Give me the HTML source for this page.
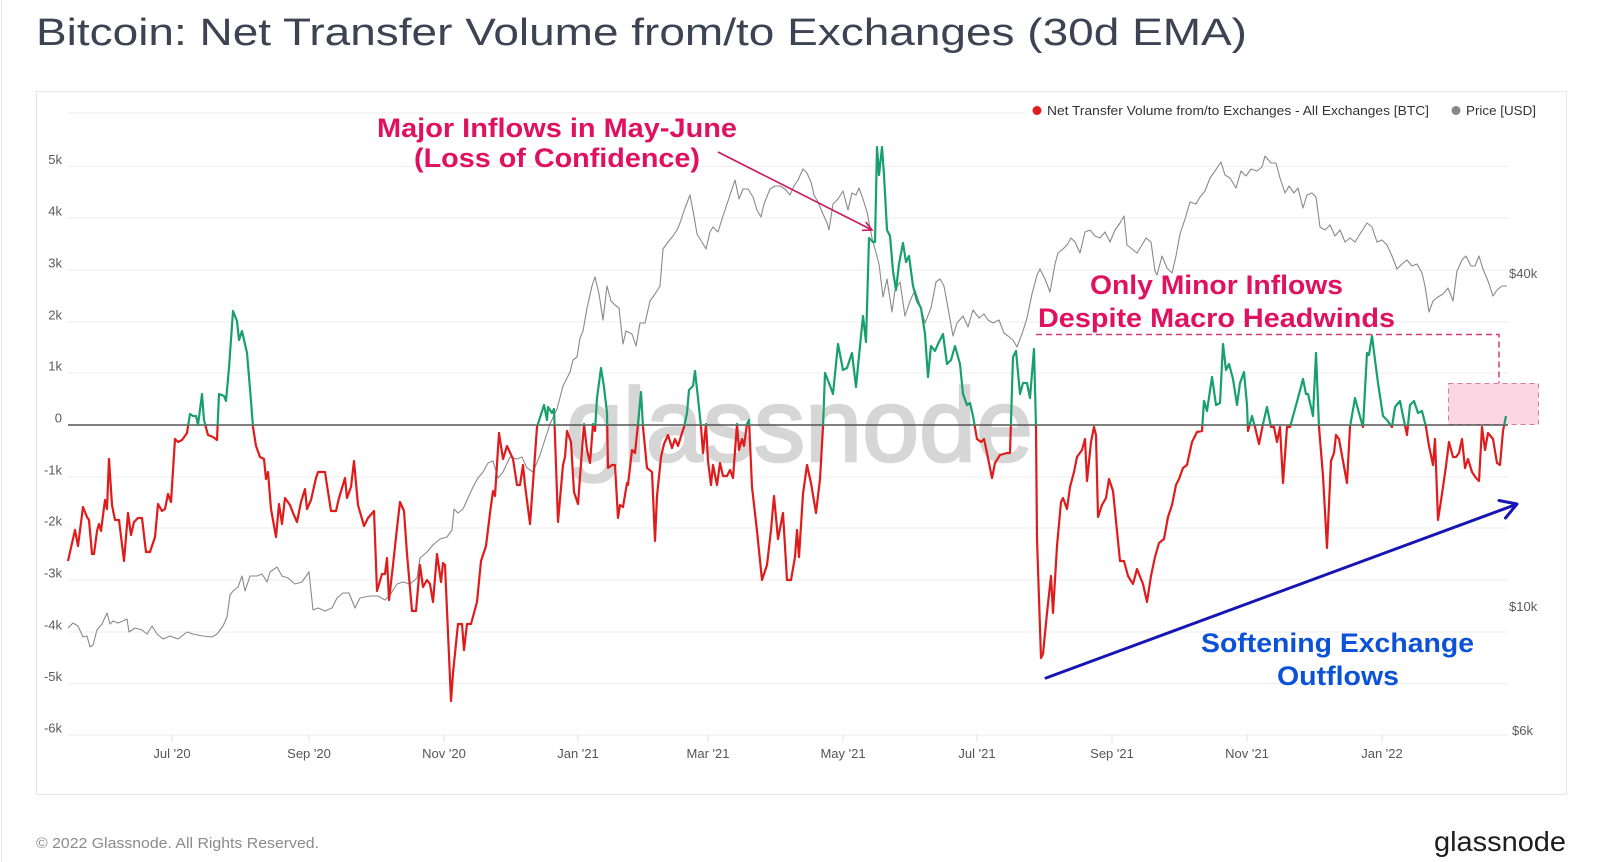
<!DOCTYPE html>
<html>
<head>
<meta charset="utf-8">
<style>
html,body{margin:0;padding:0;background:#fff;}
body{width:1600px;height:862px;overflow:hidden;}
svg{display:block;font-family:"Liberation Sans",Arial,sans-serif;}
</style>
</head>
<body>
<svg width="1600" height="862" viewBox="0 0 1600 862" xmlns="http://www.w3.org/2000/svg">
<defs>
<clipPath id="above"><rect x="0" y="0" width="1600" height="425.5"/></clipPath>
<clipPath id="below"><rect x="0" y="425.5" width="1600" height="440"/></clipPath>
</defs>
<rect x="0" y="0" width="1600" height="862" fill="#fff"/>
<line x1="1.5" y1="0" x2="1.5" y2="862" stroke="#e6e6e6" stroke-width="1"/>

<!-- Title -->
<text x="36" y="45" font-size="38" fill="#3c4352" textLength="1211" lengthAdjust="spacingAndGlyphs">Bitcoin: Net Transfer Volume from/to Exchanges (30d EMA)</text>

<!-- Chart frame -->
<rect x="36.5" y="91.5" width="1530" height="703" fill="#fff" stroke="#e6e6e6" stroke-width="1"/>

<!-- Gridlines -->
<g stroke="#eeeeee" stroke-width="1">
<line x1="68" y1="113" x2="1508" y2="113"/>
<line x1="68" y1="166.5" x2="1508" y2="166.5"/>
<line x1="68" y1="218" x2="1508" y2="218"/>
<line x1="68" y1="270" x2="1508" y2="270"/>
<line x1="68" y1="322" x2="1508" y2="322"/>
<line x1="68" y1="373" x2="1508" y2="373"/>
<line x1="68" y1="477" x2="1508" y2="477"/>
<line x1="68" y1="528" x2="1508" y2="528"/>
<line x1="68" y1="580" x2="1508" y2="580"/>
<line x1="68" y1="632" x2="1508" y2="632"/>
<line x1="68" y1="683.5" x2="1508" y2="683.5"/>
<line x1="68" y1="735" x2="1508" y2="735"/>
</g>

<!-- Legend -->
<rect x="1026" y="100" width="516" height="22" fill="#fff"/>
<circle cx="1037" cy="110.5" r="4.5" fill="#e01b1b"/>
<text x="1047" y="115" font-size="13" fill="#333" textLength="382" lengthAdjust="spacingAndGlyphs">Net Transfer Volume from/to Exchanges - All Exchanges [BTC]</text>
<circle cx="1456" cy="110.5" r="4.5" fill="#888"/>
<text x="1466" y="115" font-size="13" fill="#333" textLength="70" lengthAdjust="spacingAndGlyphs">Price [USD]</text>

<!-- x ticks -->
<g stroke="#e2e2e2" stroke-width="1">
<line x1="172" y1="735" x2="172" y2="742"/>
<line x1="309" y1="735" x2="309" y2="742"/>
<line x1="444" y1="735" x2="444" y2="742"/>
<line x1="578" y1="735" x2="578" y2="742"/>
<line x1="708" y1="735" x2="708" y2="742"/>
<line x1="843" y1="735" x2="843" y2="742"/>
<line x1="977" y1="735" x2="977" y2="742"/>
<line x1="1112" y1="735" x2="1112" y2="742"/>
<line x1="1247" y1="735" x2="1247" y2="742"/>
<line x1="1382" y1="735" x2="1382" y2="742"/>
</g>

<!-- Y labels left -->
<g font-size="13" fill="#5a5a5a" text-anchor="end">
<text x="62" y="164">5k</text>
<text x="62" y="215.5">4k</text>
<text x="62" y="267.5">3k</text>
<text x="62" y="319.5">2k</text>
<text x="62" y="370.5">1k</text>
<text x="62" y="422.5">0</text>
<text x="62" y="474.5">-1k</text>
<text x="62" y="525.5">-2k</text>
<text x="62" y="577.5">-3k</text>
<text x="62" y="629.5">-4k</text>
<text x="62" y="681">-5k</text>
<text x="62" y="732.5">-6k</text>
</g>
<!-- Y labels right -->
<g font-size="13" fill="#5a5a5a">
<text x="1509" y="278">$40k</text>
<text x="1509" y="611">$10k</text>
<text x="1512" y="735">$6k</text>
</g>
<!-- X labels -->
<g font-size="13" fill="#555" text-anchor="middle">
<text x="172" y="758">Jul '20</text>
<text x="309" y="758">Sep '20</text>
<text x="444" y="758">Nov '20</text>
<text x="578" y="758">Jan '21</text>
<text x="708" y="758">Mar '21</text>
<text x="843" y="758">May '21</text>
<text x="977" y="758">Jul '21</text>
<text x="1112" y="758">Sep '21</text>
<text x="1247" y="758">Nov '21</text>
<text x="1382" y="758">Jan '22</text>
</g>

<!-- Watermark -->
<text x="566" y="461" font-size="104" fill="#d6d6d6" stroke="#d6d6d6" stroke-width="2.5" textLength="467" lengthAdjust="spacingAndGlyphs">glassnode</text>

<!-- Price line -->
<polyline fill="none" stroke="#8a8a8a" stroke-width="1.1" stroke-linejoin="round" points="68,628 73,623 78,626 83,637 87,636 90,647 93,645 97,630 102,624 107,613 110,624 113,621 118,623 123,621 127,619 129,632 135,628 142,630 147,634 152,626 157,634 163,639 170,636 178,639 187,632 193,634 203,636 212,637 217,634 223,626 227,617 230,595 233,591 238,587 242,576 245,591 250,576 257,576 262,574 267,582 270,572 277,567 282,576 288,578 295,584 302,582 309,572 313,610 318,608 325,611 332,608 337,598 343,593 349,593 355,608 360,598 370,596 378,596 385,600 390,595 397,584 403,582 410,584 417,578 420,558 427,552 433,545 440,539 447,537 452,530 454,509 458,513 463,509 468,498 473,487 478,478 483,472 488,463 493,461 498,478 503,472 510,457 517,459 522,457 527,468 533,472 540,455 550,424 557,409 563,386 570,372 573,360 577,357 580,338 583,331 587,308 592,286 595,277 599,294 603,320 607,286 611,301 615,305 619,308 623,344 626,331 632,334 636,346 640,323 645,323 650,301 655,294 660,286 663,249 668,242 673,236 677,230 680,223 685,208 690,195 694,216 697,234 702,242 706,249 710,232 713,227 718,232 723,216 727,204 732,189 735,180 739,199 743,189 748,189 753,197 757,210 761,217 764,204 770,189 775,186 780,186 785,189 790,195 794,186 798,180 803,169 807,173 811,182 814,195 818,202 823,214 827,223 829,230 833,204 838,199 843,191 848,210 852,193 856,195 859,188 863,199 867,212 872,238 875,249 879,264 883,297 887,279 892,312 895,290 900,282 905,316 910,301 915,290 920,305 925,323 931,308 936,282 940,279 944,286 948,308 953,336 957,323 963,316 968,327 973,310 979,318 984,314 988,320 993,323 999,320 1004,333 1008,336 1013,340 1017,347 1022,334 1027,318 1032,294 1037,275 1040,269 1045,279 1050,292 1055,264 1058,253 1063,249 1067,245 1071,238 1075,242 1080,253 1085,232 1090,230 1095,236 1100,238 1105,232 1110,242 1115,230 1120,223 1124,216 1127,245 1132,249 1137,253 1142,245 1146,238 1151,242 1155,271 1157,275 1162,256 1167,268 1172,273 1176,256 1180,234 1185,219 1190,202 1196,204 1200,197 1205,191 1210,178 1215,171 1221,162 1225,175 1230,178 1236,188 1241,171 1246,176 1251,169 1257,171 1262,167 1265,156 1271,163 1276,163 1280,178 1285,193 1289,186 1294,193 1298,188 1303,208 1307,195 1312,193 1316,197 1320,227 1325,230 1330,225 1335,236 1340,230 1345,242 1350,238 1355,242 1360,234 1367,223 1372,227 1377,242 1382,240 1387,245 1392,256 1397,269 1402,264 1407,260 1412,266 1417,264 1422,273 1425,286 1429,312 1433,301 1438,297 1443,294 1448,288 1453,301 1457,271 1462,260 1466,256 1471,266 1475,266 1479,256 1483,269 1488,281 1493,296 1497,290 1502,286 1507,286"/>

<!-- Pink box (behind flow line) -->
<rect x="1448.5" y="383.5" width="90" height="41" fill="#fcd6e3" stroke="#d67d9c" stroke-width="1" stroke-dasharray="5,4"/>

<!-- Zero line -->
<line x1="68" y1="425" x2="1508" y2="425" stroke="#555" stroke-width="1.6"/>

<!-- Net flow series -->
<defs>
<polyline id="nf" fill="none" stroke-width="2.2" stroke-linejoin="round" points="68,561 75,530 78,546 83,507 87,517 89,520 92,554 94,554 97,531 99,524 101,531 105,500 107,509 109,459 112,505 115,520 119,520 124,561 128,513 131,535 134,522 138,518 142,518 146,552 150,552 155,537 158,504 162,511 165,509 168,494 171,502 175,439 178,442 182,440 187,433 190,414 193,416 196,416 198,425 202,394 204,420 208,435 213,437 217,440 219,394 224,396 226,401 229,368 233,311 237,321 239,340 242,331 247,353 251,401 253,427 256,446 260,457 264,459 266,479 268,472 271,509 276,537 279,504 282,524 285,498 290,505 293,513 297,522 301,502 305,489 307,509 311,500 316,478 318,472 325,472 331,511 336,511 339,498 345,478 347,498 351,487 354,461 358,505 364,526 368,518 374,511 377,591 382,574 385,574 387,558 389,600 393,565 397,528 400,502 404,511 407,554 412,611 416,611 420,565 423,587 427,580 430,584 433,602 437,554 441,582 443,563 445,565 451,701 453,673 458,624 462,624 464,650 467,624 471,624 477,602 481,561 486,546 490,513 493,491 495,496 499,433 503,459 507,446 513,459 517,485 520,485 523,465 525,485 530,524 533,483 537,427 544,405 547,420 548,407 552,413 554,409 556,465 558,522 563,465 565,457 567,431 571,442 574,492 578,504 582,450 584,424 587,450 590,463 593,424 595,431 597,398 601,368 604,387 607,413 608,468 612,465 615,465 618,518 620,505 623,507 627,483 628,485 632,450 635,453 638,424 641,392 643,427 647,468 652,472 655,541 657,496 661,457 664,444 668,435 672,448 675,439 678,446 682,433 684,427 687,413 689,390 693,386 695,371 698,398 701,427 703,453 706,424 708,461 711,485 713,465 717,485 720,463 723,476 727,476 730,470 733,478 737,424 739,450 742,439 744,446 747,424 749,420 752,487 757,531 762,580 767,565 771,530 774,496 778,539 783,513 787,580 791,580 795,557 797,530 799,557 803,494 807,465 811,483 816,513 820,479 823,427 825,373 829,383 833,394 838,344 843,370 847,368 852,353 856,387 860,346 863,316 866,342 869,238 873,242 875,242 877,147 879,175 882,147 884,175 887,230 890,236 893,271 896,290 899,264 903,243 906,262 909,256 913,286 917,301 921,308 925,334 928,377 931,346 935,351 938,344 943,334 947,364 951,360 955,346 960,364 963,394 967,405 970,403 973,416 977,439 981,442 984,439 987,453 992,478 995,463 1000,455 1007,453 1010,453 1013,357 1016,351 1020,394 1023,383 1027,383 1030,398 1034,349 1036,427 1037,539 1041,658 1043,654 1047,613 1051,576 1053,613 1057,546 1061,502 1063,498 1067,509 1070,487 1074,472 1077,457 1082,450 1085,439 1087,481 1091,442 1094,427 1096,435 1098,517 1102,505 1106,498 1109,479 1113,491 1117,531 1120,561 1124,561 1128,576 1133,584 1137,569 1143,584 1147,602 1151,576 1155,557 1159,543 1164,539 1168,517 1172,505 1176,485 1179,479 1183,468 1187,465 1192,442 1197,432 1202,431 1204,401 1207,411 1212,377 1216,405 1220,403 1223,344 1226,370 1229,364 1233,379 1237,405 1240,383 1244,372 1247,405 1248,431 1252,416 1255,427 1259,444 1263,424 1267,407 1271,427 1274,427 1277,442 1280,427 1283,483 1287,427 1290,427 1295,409 1298,398 1303,379 1306,394 1308,394 1313,416 1316,353 1319,427 1323,476 1327,548 1331,461 1334,453 1336,435 1339,439 1343,461 1347,483 1350,427 1355,398 1359,413 1363,427 1367,353 1369,355 1372,336 1375,360 1378,383 1383,416 1387,420 1392,427 1395,407 1400,401 1403,416 1407,435 1410,405 1414,401 1418,413 1422,411 1426,427 1429,446 1433,465 1435,439 1438,520 1442,494 1446,466 1449,442 1453,457 1456,457 1459,453 1462,439 1465,468 1468,459 1472,472 1476,478 1479,481 1482,427 1485,450 1488,433 1493,439 1497,463 1500,465 1503,431 1506,416"/>
</defs>
<use href="#nf" stroke="#18a06c" clip-path="url(#above)"/>
<use href="#nf" stroke="#e01b1b" clip-path="url(#below)"/>

<!-- Dashed annotation lines -->
<polyline points="1036,334.5 1499,334.5 1499,383" fill="none" stroke="#d63a73" stroke-width="1.5" stroke-dasharray="6,4"/>

<!-- Magenta arrow -->
<line x1="718" y1="152" x2="872" y2="230" stroke="#c8195e" stroke-width="1.6"/>
<polyline points="865.8,222.1 872,230 862,230.3" fill="none" stroke="#c8195e" stroke-width="1.6"/>

<!-- Blue arrow -->
<line x1="1046" y1="678" x2="1516" y2="504.5" stroke="#1616b4" stroke-width="3" stroke-linecap="round"/>
<polyline points="1499,500.5 1517,504 1505.5,518" fill="none" stroke="#1616b4" stroke-width="3" stroke-linecap="round" stroke-linejoin="round"/>

<!-- Annotation texts -->
<g font-weight="bold" font-size="27" fill="#e0115f">
<text x="377" y="137" textLength="360" lengthAdjust="spacingAndGlyphs">Major Inflows in May-June</text>
<text x="414" y="167" textLength="286" lengthAdjust="spacingAndGlyphs">(Loss of Confidence)</text>
<text x="1090" y="294" textLength="253" lengthAdjust="spacingAndGlyphs">Only Minor Inflows</text>
<text x="1038" y="327" textLength="357" lengthAdjust="spacingAndGlyphs">Despite Macro Headwinds</text>
</g>
<g font-weight="bold" font-size="27" fill="#0b52d6">
<text x="1201" y="652" textLength="273" lengthAdjust="spacingAndGlyphs">Softening Exchange</text>
<text x="1277" y="685" textLength="122" lengthAdjust="spacingAndGlyphs">Outflows</text>
</g>

<!-- Footer -->
<text x="36" y="848" font-size="15" fill="#8a8a8a" textLength="283" lengthAdjust="spacingAndGlyphs">© 2022 Glassnode. All Rights Reserved.</text>
<text x="1566" y="851" font-size="28" fill="#1d1d1d" text-anchor="end" textLength="132" lengthAdjust="spacingAndGlyphs">glassnode</text>
</svg>
</body>
</html>
